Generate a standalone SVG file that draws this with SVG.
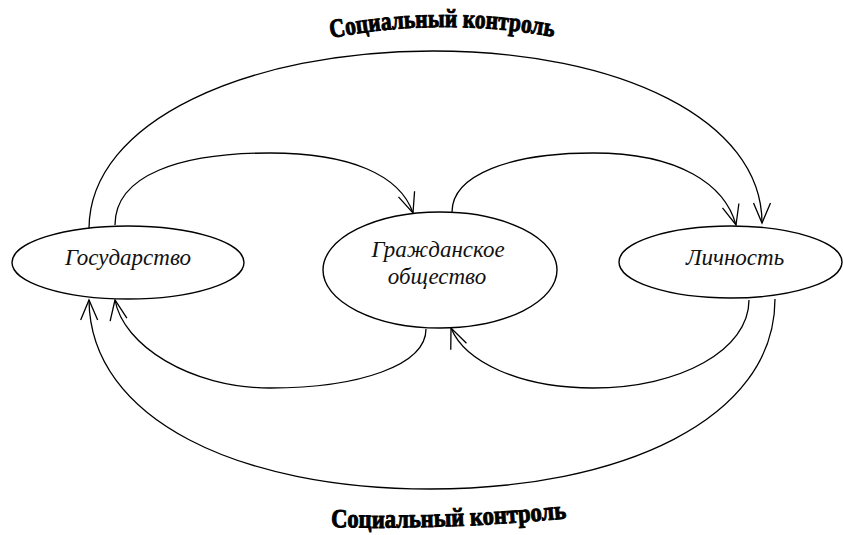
<svg xmlns="http://www.w3.org/2000/svg" width="843" height="535" viewBox="0 0 843 535">
<style>
.node ellipse{fill:#fff;stroke:#000;stroke-width:1.4}
.lbl{font-family:"Liberation Serif","DejaVu Serif",serif;font-style:italic;font-size:23px;fill:#111;text-anchor:middle}
.conn path{fill:none;stroke:#000;stroke-width:1.3}
.title{font-family:"Liberation Serif","DejaVu Serif",serif;font-weight:bold;font-size:26px;fill:#000;stroke:#000;stroke-width:1}
</style>
<defs>
<marker id="arr" markerUnits="userSpaceOnUse" orient="auto" refX="0" refY="0" markerWidth="30" markerHeight="30" viewBox="-25 -12 30 24" overflow="visible">
<path d="M-20,-8.5 L0,0 L-20,8.5" fill="none" stroke="#000" stroke-width="1.3"/>
</marker>
<path id="tp1" d="M331,38 Q444,16 560,38"/>
<path id="tp2" d="M331,527 Q450,530 570,518"/>
</defs>
<rect width="843" height="535" fill="#fff"/>
<g id="connectors" class="conn">
<path d="M89,229 C89,120 250,51 433,51 C620,51 762,120 762,223" marker-end="url(#arr)"/>
<path d="M115,225 C115,175 180,153 270,153 C350,153 400,175 413,213" marker-end="url(#arr)"/>
<path d="M452,212 C452,175 510,153 593,153 C680,153 725,185 736,225" marker-end="url(#arr)"/>
<path d="M749,300 C749,350 680,388 593,388 C520,388 465,362 451,328" marker-end="url(#arr)"/>
<path d="M426,329 C426,365 360,388 270,388 C190,388 123,345 115,300" marker-end="url(#arr)"/>
<path d="M775,299 C775,420 620,489 430,489 C240,489 90,420 89,300" marker-end="url(#arr)"/>
</g>
<g id="node-gosudarstvo" class="node">
<ellipse cx="128" cy="262.5" rx="116" ry="36.5"/>
<text class="lbl" x="128" y="265">Государство</text>
</g>
<g id="node-obshchestvo" class="node">
<ellipse cx="440" cy="270" rx="117" ry="58"/>
<text class="lbl" x="438" y="257">Гражданское</text>
<text class="lbl" x="437" y="284">общество</text>
</g>
<g id="node-lichnost" class="node">
<ellipse cx="730.5" cy="262" rx="111.5" ry="36"/>
<text class="lbl" x="735" y="265">Личность</text>
</g>
<g id="title-top">
<text class="title"><textPath href="#tp1" textLength="224" lengthAdjust="spacingAndGlyphs">Социальный контроль</textPath></text>
</g>
<g id="title-bottom">
<text class="title"><textPath href="#tp2" textLength="236" lengthAdjust="spacingAndGlyphs">Социальный контроль</textPath></text>
</g>
</svg>
